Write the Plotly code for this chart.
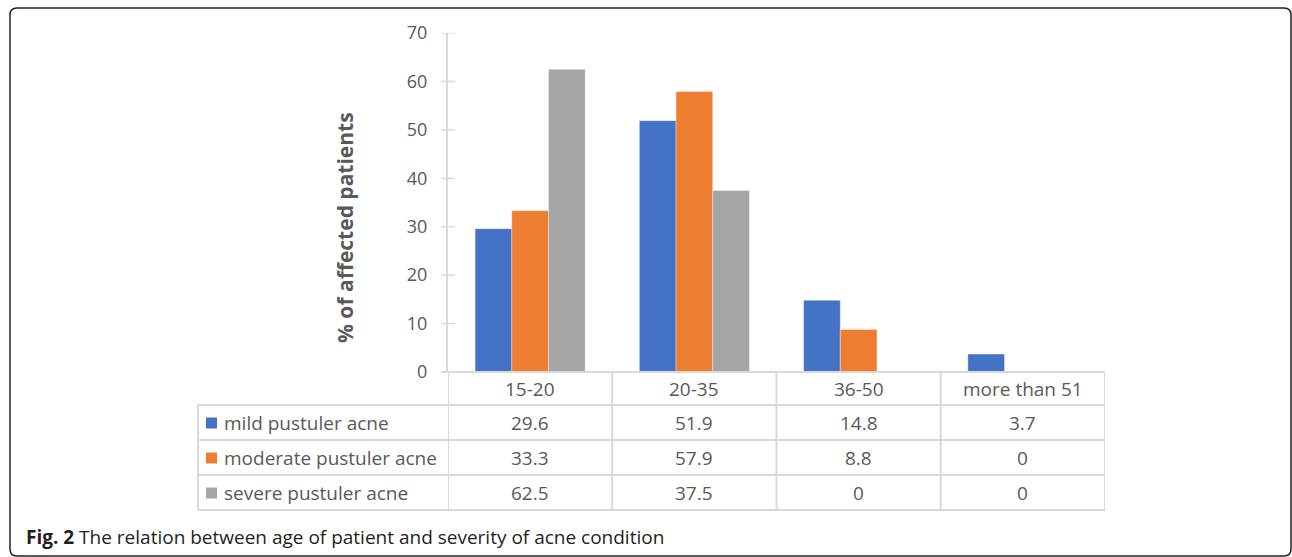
import plotly.graph_objects as go

W, H = 1292, 557

age_groups = ["15-20", "20-35", "36-50", "more than 51"]
series_names = ["mild pustuler acne", "moderate pustuler acne", "severe pustuler acne"]
mild = [29.6, 51.9, 14.8, 3.7]
moderate = [33.3, 57.9, 8.8, 0]
severe = [62.5, 37.5, 0, 0]
y_ticks = [0, 10, 20, 30, 40, 50, 60, 70]
caption_bold = "Fig. 2"
caption_text = "The relation between age of patient and severity of acne condition"
y_title = "% of affected patients"

colors = ["#4472C4", "#ED7D31", "#A5A5A5"]
text_color = "#595959"
grid_color = "#D9D9D9"
font_family = "Open Sans"
table_font = dict(size=19, color=text_color, family=font_family)


def px(x):
    return x / W


def py(y):
    return 1 - y / H


fig = go.Figure()
for name, vals, col in zip(series_names, [mild, moderate, severe], colors):
    fig.add_trace(go.Bar(
        x=age_groups, y=vals, name=name,
        marker=dict(color=col, line=dict(color="rgba(255,255,255,0.6)", width=0.6)),
        hoverinfo="x+y+name",
    ))

shapes = []
annotations = []

# table geometry (pixels)
tbl_left = 198
row_lines = [372, 405, 440, 475, 510]
row_centers = [423, 458, 493]
header_center = 389

# y-axis cross ticks
for t in y_ticks:
    shapes.append(dict(type="line", xref="paper", yref="y", x0=px(441), x1=px(455), y0=t, y1=t,
                       line=dict(color=grid_color, width=1.5), layer="below"))

# column lines of the table
for k in range(len(age_groups) + 1):
    xv = k - 0.5
    shapes.append(dict(type="line", xref="x", yref="paper", x0=xv, x1=xv,
                       y0=py(row_lines[-1]), y1=py(row_lines[0]),
                       line=dict(color=grid_color, width=2)))
# row lines
shapes.append(dict(type="line", xref="paper", yref="paper", x0=px(441), x1=px(1105),
                   y0=py(row_lines[0]), y1=py(row_lines[0]), line=dict(color=grid_color, width=2)))
for yl in row_lines[1:]:
    shapes.append(dict(type="line", xref="paper", yref="paper", x0=px(tbl_left), x1=px(1105),
                       y0=py(yl), y1=py(yl), line=dict(color=grid_color, width=2)))
shapes.append(dict(type="line", xref="paper", yref="paper", x0=px(tbl_left), x1=px(tbl_left),
                   y0=py(row_lines[1]), y1=py(row_lines[-1]), line=dict(color=grid_color, width=2)))

# header labels
for g in age_groups:
    annotations.append(dict(x=g, y=py(header_center), xref="x", yref="paper", text=g,
                            xanchor="center", yanchor="middle",
                            showarrow=False, font=table_font))

# table rows: legend key + values
for i, (name, vals, col) in enumerate(zip(series_names, [mild, moderate, severe], colors)):
    yc = row_centers[i]
    shapes.append(dict(type="rect", xref="paper", yref="paper", x0=px(206), x1=px(217),
                       y0=py(yc + 5.5), y1=py(yc - 5.5), fillcolor=col, line=dict(width=0)))
    annotations.append(dict(x=px(222), y=py(yc), xref="paper", yref="paper", text=name,
                            xanchor="left", yanchor="middle", showarrow=False, font=table_font))
    for g, v in zip(age_groups, vals):
        annotations.append(dict(x=g, y=py(yc), xref="x", yref="paper", text=f"{v:g}",
                                xanchor="center", yanchor="middle",
                                showarrow=False, font=table_font))

# y-axis title
annotations.append(dict(x=px(345), y=py(227), xref="paper", yref="paper", text=f"<b>{y_title}</b>",
                        textangle=-90, xanchor="center", yanchor="middle", showarrow=False,
                        font=dict(size=21, color=text_color, family=font_family)))

# caption
annotations.append(dict(x=px(24), y=py(537), xref="paper", yref="paper",
                        text=f"<b>{caption_bold}</b> {caption_text}",
                        xanchor="left", yanchor="middle", showarrow=False,
                        font=dict(size=19, color="#231F20", family=font_family)))

# rounded frame
x0, y0, x1, y1, r = 10, 8, 1291, 556, 7
path = (f"M {px(x0 + r)},{py(y0)} L {px(x1 - r)},{py(y0)} "
        f"Q {px(x1)},{py(y0)} {px(x1)},{py(y0 + r)} L {px(x1)},{py(y1 - r)} "
        f"Q {px(x1)},{py(y1)} {px(x1 - r)},{py(y1)} L {px(x0 + r)},{py(y1)} "
        f"Q {px(x0)},{py(y1)} {px(x0)},{py(y1 - r)} L {px(x0)},{py(y0 + r)} "
        f"Q {px(x0)},{py(y0)} {px(x0 + r)},{py(y0)} Z")
shapes.append(dict(type="path", xref="paper", yref="paper", path=path,
                   line=dict(color="#231F20", width=1.5)))

fig.update_layout(
    width=W, height=H,
    margin=dict(l=0, r=0, t=0, b=0, autoexpand=False),
    paper_bgcolor="white", plot_bgcolor="white",
    barmode="group", bargap=0.33, bargroupgap=0,
    showlegend=False,
    font=dict(family=font_family, color=text_color),
    xaxis=dict(domain=[px(448), px(1105)], range=[-0.5, 3.5], showticklabels=False,
               showline=False, showgrid=False, zeroline=False, ticks="", automargin=False),
    yaxis=dict(domain=[py(372), py(33)], range=[0, 70], tickvals=y_ticks,
               showgrid=False, zeroline=False, showline=True, linecolor=grid_color, linewidth=2,
               ticks="", ticklabelstandoff=15, automargin=False,
               tickfont=dict(size=18, color=text_color, family=font_family)),
    shapes=shapes, annotations=annotations,
)

fig.write_html("out.html")
